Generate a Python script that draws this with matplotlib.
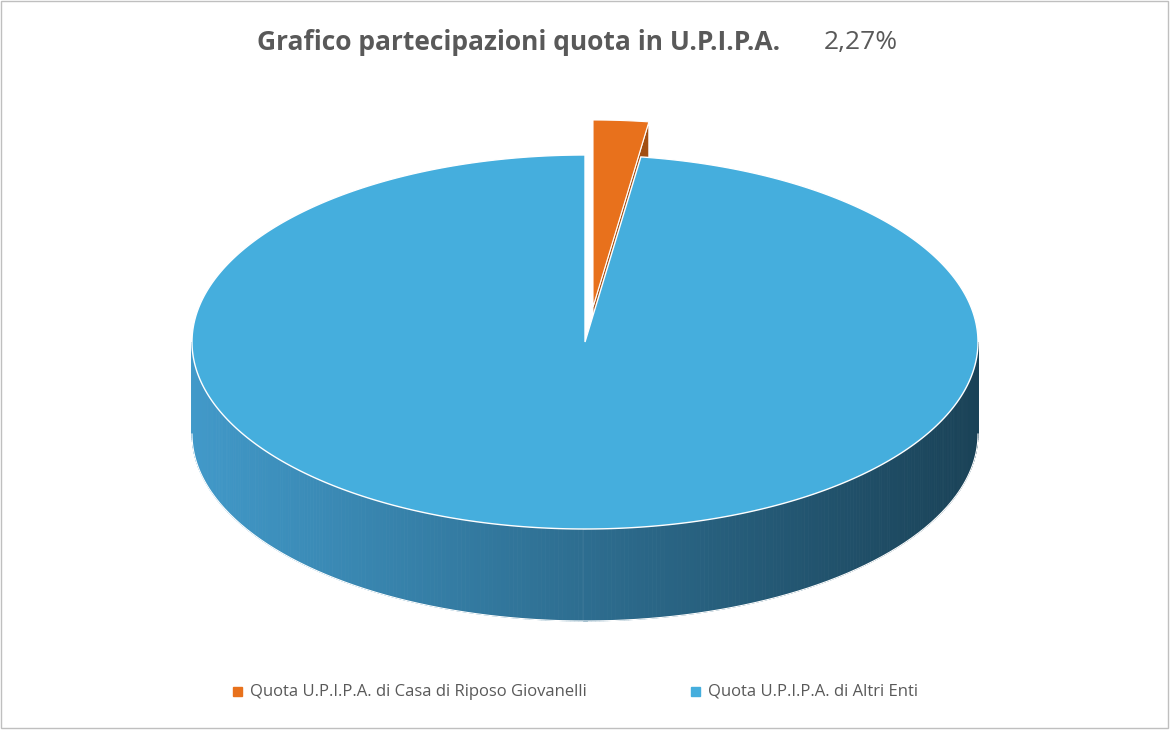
import numpy as np
import matplotlib.pyplot as plt
from matplotlib.patches import Polygon, Rectangle
from matplotlib.colors import to_rgb

labels = ["Quota U.P.I.P.A. di Casa di Riposo Giovanelli", "Quota U.P.I.P.A. di Altri Enti"]
values = [2.27, 97.73]
colors = ["#e8711c", "#45aedd"]

W, H = 1170, 730
fig = plt.figure(figsize=(W/100, H/100), dpi=100)
ax = fig.add_axes([0, 0, 1, 1])
ax.set_xlim(0, W); ax.set_ylim(H, 0); ax.axis('off')
ax.add_patch(Rectangle((1, 1), W-3, H-3, fill=False, ec='#bfbfbf', lw=1))

cx, cy, rx, ry, depth = 585, 342, 393, 187, 92
def pt(t, ox=0, oy=0, d=0):
    return (cx + ox + rx*np.sin(t), cy + oy - ry*np.cos(t) + d)

fr = np.array(values) / sum(values)
bounds = np.concatenate([[0], np.cumsum(fr)]) * 2*np.pi

# orange slice (exploded)
ox, oy = 8, -35
t0, t1 = bounds[0], bounds[1]
# radial side face at t1
e = pt(t1, ox, oy); c = (cx+ox, cy+oy)
ax.add_patch(Polygon([c, e, (e[0], e[1]+depth), (c[0], c[1]+depth)], closed=True,
                     fc='#a24f13', ec='white', lw=0.8))
ts = np.linspace(t0, t1, 20)
ax.add_patch(Polygon([c] + [pt(t, ox, oy) for t in ts], closed=True, fc=colors[0], ec='white', lw=0.8))

# blue slice side wall with gradient
t0, t1 = bounds[1], bounds[2]
light, dark = np.array(to_rgb('#4199c9')), np.array(to_rgb('#1a4257'))
tt = np.linspace(np.pi/2, 3*np.pi/2, 300)
for a, b in zip(tt[:-1], tt[1:]):
    p1, p2 = pt(a), pt(b)
    x = (p1[0] - (cx-rx)) / (2*rx)
    col = light*x + dark*(1-x)
    col = dark + (light-dark)*(x)  # x=1 right
    f = 1 - x
    col = dark*(1-f) + light*f
    ax.add_patch(Polygon([p1, p2, (p2[0], p2[1]+depth), (p1[0], p1[1]+depth)], closed=True,
                         fc=col, ec=col, lw=0.6))
# side outline
ax.plot([pt(t)[0] for t in tt], [pt(t)[1]+depth for t in tt], color='white', lw=0.8)
ts = np.linspace(t0, t1, 400)
ax.add_patch(Polygon([(cx, cy)] + [pt(t) for t in ts], closed=True, fc=colors[1], ec='white', lw=1))

# title
ax.text(257, 42, "Grafico partecipazioni quota in U.P.I.P.A.", fontsize=19, fontweight='bold',
        color='#595959', ha='left', va='center', family='Open Sans')
ax.text(824, 42, "2,27%", fontsize=19, color='#595959', ha='left', va='center', family='Open Sans')

# legend
ax.add_patch(Rectangle((233, 687), 9, 9, color=colors[0]))
ax.text(250, 692, labels[0], fontsize=12, color='#595959', va='center', family='Open Sans')
ax.add_patch(Rectangle((691, 687), 9, 9, color=colors[1]))
ax.text(708, 692, labels[1], fontsize=12, color='#595959', va='center', family='Open Sans')

fig.savefig('out.png', dpi=100)
